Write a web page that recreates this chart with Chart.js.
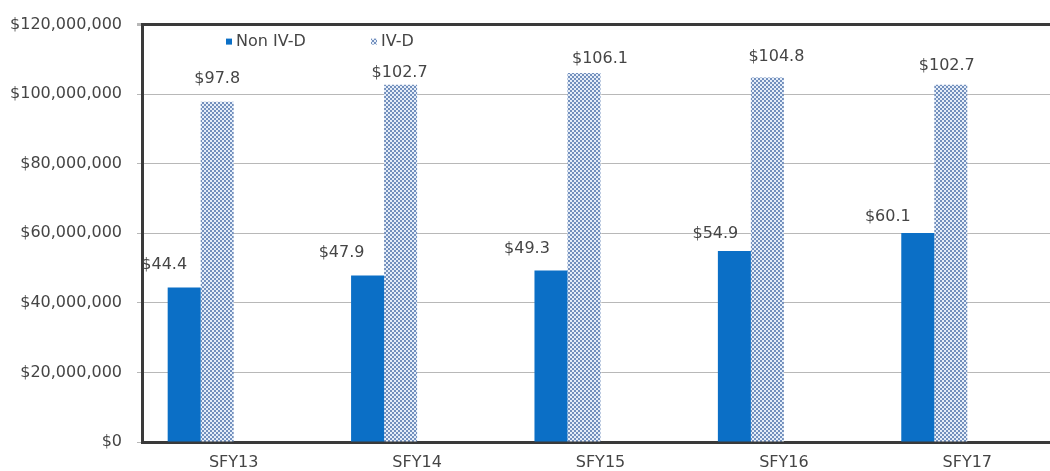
<!DOCTYPE html>
<html>
<head>
<meta charset="utf-8">
<script src="https://cdn.jsdelivr.net/npm/chart.js@4/dist/chart.umd.min.js"></script>
<style>
  html, body { margin: 0; padding: 0; overflow: hidden; background: #fff; }
  #wrap { width: 1060px; height: 471px; position: relative; }
</style>
</head>
<body>
<div id="wrap"><canvas id="c"></canvas></div>
<script>
// ---- data ----
const categories = ['SFY13', 'SFY14', 'SFY15', 'SFY16', 'SFY17'];
const seriesNames = ['Non IV-D', 'IV-D'];
const nonIVD = [44.4e6, 47.9e6, 49.3e6, 54.9e6, 60.1e6];
const ivd = [97.8e6, 102.7e6, 106.1e6, 104.8e6, 102.7e6];
const emptySeries = [null, null, null, null, null];
const yTickValues = [0, 20e6, 40e6, 60e6, 80e6, 100e6, 120e6];

// ---- label nudges (pixels, relative to bar top centre) ----
const nonIVDNudge = [[-20, -23], [-26, -23], [-24, -22], [-19, -17], [-30, -16]];
const ivdNudge = [[0, -23], [-1, -12], [16, -14], [9, -21], [-4, -19]];

const FONT = '"DejaVu Sans", "Liberation Sans", Arial, sans-serif';
const TEXT = '#454545';
const BLUE = '#0b6fc6';

function makePattern() {
  const p = document.createElement('canvas');
  p.width = 4; p.height = 4;
  const g = p.getContext('2d');
  g.fillStyle = '#e6eef9';
  g.fillRect(0, 0, 4, 4);
  g.fillStyle = '#7390bd';
  g.fillRect(0, 0, 2, 2);
  g.fillRect(2, 2, 2, 2);
  return document.getElementById('c').getContext('2d').createPattern(p, 'repeat');
}
const pattern = makePattern();

const labelPlugin = {
  id: 'valueLabels',
  afterDatasetsDraw(chart) {
    const ctx = chart.ctx;
    ctx.save();
    ctx.font = '16px ' + FONT;
    ctx.fillStyle = TEXT;
    ctx.textAlign = 'center';
    ctx.textBaseline = 'middle';
    [[0, nonIVDNudge], [1, ivdNudge]].forEach(([di, nudge]) => {
      const meta = chart.getDatasetMeta(di);
      const data = chart.data.datasets[di].data;
      meta.data.forEach((el, i) => {
        const v = data[i];
        const t = '$' + (v / 1e6).toFixed(1);
        ctx.fillText(t, el.x + nudge[i][0], el.y + nudge[i][1]);
      });
    });
    ctx.restore();
  }
};

const legendPlugin = {
  id: 'innerLegend',
  afterDraw(chart) {
    const ctx = chart.ctx;
    const y = chart.chartArea.top + 17;
    const items = [
      { x: chart.chartArea.left + 84, fill: BLUE, text: chart.data.datasets[0].label },
      { x: chart.chartArea.left + 229, fill: pattern, text: chart.data.datasets[1].label }
    ];
    ctx.save();
    ctx.font = '16px ' + FONT;
    ctx.textBaseline = 'middle';
    ctx.textAlign = 'left';
    items.forEach(it => {
      ctx.fillStyle = it.fill;
      ctx.fillRect(it.x, y - 3, 6, 6);
      ctx.fillStyle = TEXT;
      ctx.fillText(it.text, it.x + 10, y);
    });
    ctx.restore();
  }
};

new Chart(document.getElementById('c'), {
  type: 'bar',
  data: {
    labels: categories,
    datasets: [
      { label: seriesNames[0], data: nonIVD, backgroundColor: BLUE, borderWidth: 0 },
      { label: seriesNames[1], data: ivd, backgroundColor: pattern, borderWidth: 0 },
      { label: '', data: emptySeries, backgroundColor: 'transparent' },
      { label: '', data: emptySeries, backgroundColor: 'transparent' }
    ]
  },
  options: {
    responsive: true,
    maintainAspectRatio: false,
    animation: false,
    datasets: { bar: { categoryPercentage: 0.72, barPercentage: 1.0 } },
    layout: { padding: { top: 23, right: 1, left: 0, bottom: 0 } },
    plugins: { legend: { display: false }, tooltip: { enabled: false } },
    scales: {
      x: {
        grid: { display: false, drawTicks: false },
        border: { display: true, color: '#3a3a3a', width: 3 },
        ticks: { color: TEXT, font: { family: FONT, size: 16 }, padding: 11, maxRotation: 0 },
        afterFit(s) { s.height = 29; }
      },
      y: {
        min: 0,
        max: 120e6,
        afterBuildTicks(s) { s.ticks = yTickValues.map(v => ({ value: v })); },
        grid: {
          color: c => (c.tick && c.tick.value === 120e6) ? '#3a3a3a' : '#b8b8b8',
          lineWidth: c => (c.tick && c.tick.value === 120e6) ? 3 : 1,
          tickColor: '#b8b8b8',
          tickLength: 5,
          drawTicks: true
        },
        border: { display: true, color: '#3a3a3a', width: 3 },
        ticks: {
          color: TEXT,
          font: { family: FONT, size: 16 },
          padding: 15,
          callback: v => '$' + Number(v).toLocaleString('en-US')
        },
        afterFit(s) { s.width = 142; }
      }
    }
  },
  plugins: [labelPlugin, legendPlugin]
});
</script>
</body>
</html>
